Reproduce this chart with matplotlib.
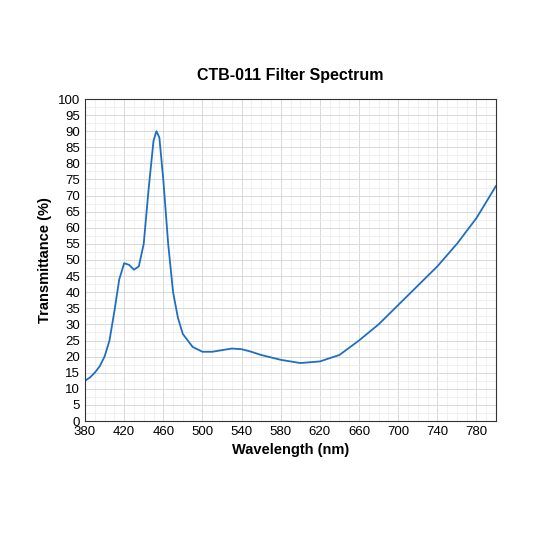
import matplotlib
matplotlib.use("Agg")
import matplotlib.pyplot as plt
import numpy as np
from matplotlib.ticker import MultipleLocator, FixedLocator

wl = [380,385,390,395,400,405,410,415,420,425,430,435,440,445,450,453,456,460,465,470,475,480,490,500,510,520,530,540,550,560,580,600,620,640,660,680,700,720,740,760,780,790,800]
tr = [12.5,13.5,15,17,20,25,34,44,49,48.5,47,48,55,72,87,90,88,75,55,40,32,27,23,21.5,21.5,22,22.5,22.3,21.5,20.5,19,18,18.5,20.5,25,30,36,42,48,55,63,68,73]
xticks = list(range(380, 801, 40))

fig = plt.figure(figsize=(5.33,5.33), dpi=100)
ax = fig.add_axes([85/533, 1-421/533, (496-85)/533, (421-99)/533])
ax.plot(wl, tr, color="#1f6fc0", lw=1.3)
ax.set_xlim(380,800); ax.set_ylim(0,100)
ax.xaxis.set_major_locator(FixedLocator(xticks))
ax.xaxis.set_minor_locator(MultipleLocator(10))
ax.yaxis.set_major_locator(MultipleLocator(5))
ax.yaxis.set_minor_locator(MultipleLocator(2.5))
ax.grid(which="major", color="#d9d9d9", lw=0.7)
ax.grid(which="minor", color="#eeeeee", lw=0.6)
ax.tick_params(which="both", length=0, labelsize=9.5)
for s in ax.spines.values(): s.set_color("#333333")
ax.set_xlabel("Wavelength (nm)", fontsize=10.5, fontweight="bold", family="Liberation Sans")
ax.set_ylabel("Transmittance (%)", fontsize=10.5, fontweight="bold", family="Liberation Sans")
for l in ax.get_xticklabels()+ax.get_yticklabels(): l.set_family("Liberation Sans")
ax.set_title("CTB-011 Filter Spectrum", fontsize=11.5, fontweight="bold", family="Liberation Sans", pad=14)
fig.savefig("out.png", dpi=100)
